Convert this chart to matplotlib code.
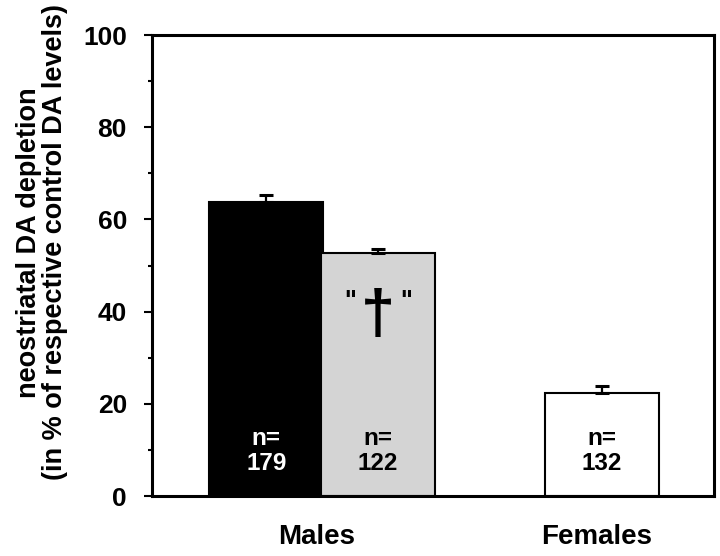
import matplotlib.pyplot as plt

plt.rcParams['font.family'] = ['Liberation Sans', 'DejaVu Sans']
plt.rcParams['font.weight'] = 'bold'

groups = ['Males', 'Females']
bar_pos = [0, 1, 3]
means = [63.7, 52.8, 22.3]
sems = [1.6, 0.8, 1.6]
n_labels = ['179', '122', '132']
bar_colors = ['black', '#d4d4d4', 'white']
n_text_colors = ['white', 'black', 'black']
group_pos = [0.45, 2.95]

fig = plt.figure(figsize=(7.2, 5.56), dpi=100)
ax = fig.add_axes([0.2111, 0.1079, 0.7806, 0.829])

ax.bar(bar_pos, means, width=1.02, color=bar_colors, edgecolor='black', linewidth=1.5, zorder=2)
ax.errorbar(bar_pos, means, yerr=[[0, 0, 0], sems], fmt='none', ecolor='black',
            elinewidth=1.6, capsize=4.8, capthick=2.2, zorder=3)

for x, lab, c in zip(bar_pos, n_labels, n_text_colors):
    ax.text(x, 11.1, 'n=', ha='center', va='baseline', fontsize=17.5, color=c, fontweight='bold')
    ax.text(x, 5.6, lab, ha='center', va='baseline', fontsize=17.5, color=c, fontweight='bold')

# dagger mark on the grey bar
ax.text(bar_pos[1] - 0.25, 40.8, '"', ha='center', va='baseline', fontsize=18, fontweight='bold')
ax.text(bar_pos[1] + 0.25, 40.8, '"', ha='center', va='baseline', fontsize=18, fontweight='bold')
ax.text(bar_pos[1], 39.0, '\u2020', ha='center', va='center', fontsize=44, fontweight='bold')

ax.set_xlim(-1.02, 4.0)
ax.set_ylim(0, 100)
ax.set_yticks([0, 20, 40, 60, 80, 100])
ax.set_yticks([10, 30, 50, 70, 90], minor=True)
ax.set_xticks(group_pos)
ax.set_xticklabels(groups, fontsize=20, fontweight='bold')
ax.tick_params(axis='x', length=0, pad=20)
ax.tick_params(axis='y', which='major', length=6, width=1.5, labelsize=19, pad=12)
ax.tick_params(axis='y', which='minor', length=3, width=1.5)
for lab in ax.get_yticklabels():
    lab.set_fontweight('bold')
for s in ax.spines.values():
    s.set_linewidth(2.2)

ax.set_ylabel('neostriatal DA depletion\n(in % of respective control DA levels)',
              fontsize=19.5, fontweight='bold', linespacing=1.0)
ax.yaxis.set_label_coords(-0.15, 0.55)

fig.savefig('out.png', dpi=100)
